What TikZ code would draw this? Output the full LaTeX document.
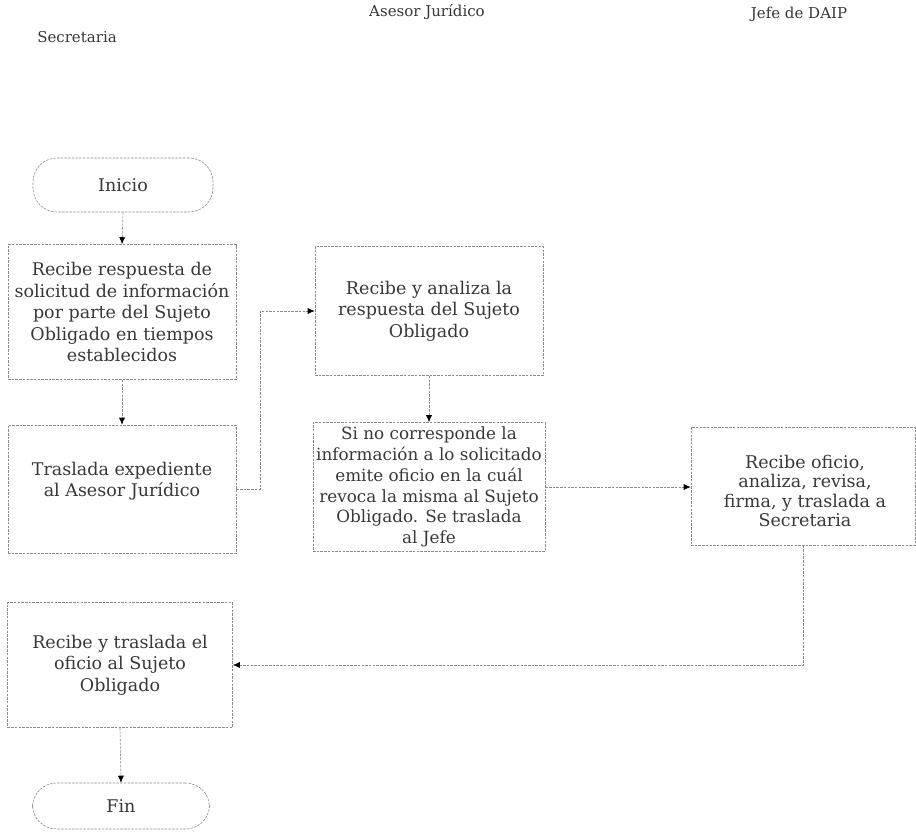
\documentclass[tikz,border=0pt]{standalone}
\usepackage{fontspec}
\setmainfont{DejaVu Serif}
\usetikzlibrary{arrows.meta}
\definecolor{inkc}{gray}{0.22}
\definecolor{edgec}{gray}{0.55}
\tikzset{
  x=1pt, y=-1pt,
  boxline/.style={draw=edgec, line width=0.6pt, dash pattern=on 2.5pt off 1.2pt},
  bodytext/.style={align=center, text=inkc, inner sep=0pt,
    font=\fontsize{17.5}{21.5}\selectfont},
  procbox/.style={boxline, rectangle, bodytext},
  termbox/.style={procbox, rounded corners=24pt},
  lane/.style={text=inkc, font=\fontsize{15}{18}\selectfont},
  conn/.style={draw=edgec, line width=0.6pt, dash pattern=on 2.5pt off 1.2pt,
    -{Latex[length=7pt,width=6pt,fill=black,color=black]}}
}
\begin{document}
\begin{tikzpicture}
\useasboundingbox (0,0) rectangle (916,839);

% swimlane headings
\node[lane] (h1) at (77,37) {Secretaria};
\node[lane] (h2) at (427,12) {Asesor Jurídico};
\node[lane] (h3) at (799,14) {Jefe de DAIP};

% Secretaria column
\node[termbox, minimum width=180, minimum height=54] (ini) at (123,185) {Inicio};
\node[procbox, minimum width=228, minimum height=135] (b1) at (122,312)
  {Recibe respuesta de\\solicitud de información\\por parte del Sujeto\\Obligado en tiempos\\establecidos};
\node[procbox, minimum width=228, minimum height=128] (b3) at (122,489) {};
\node[bodytext] (b3t) at (122,481) {Traslada expediente\\al Asesor Jurídico};
\node[procbox, minimum width=225, minimum height=125] (b6) at (120,665)
  {Recibe y traslada el\\oficio al Sujeto\\Obligado};
\node[termbox, minimum width=177, minimum height=46] (fin) at (121,806) {Fin};

% Asesor Jurídico column
\node[procbox, minimum width=228, minimum height=129] (b2) at (429,311)
  {Recibe y analiza la\\respuesta del Sujeto\\Obligado};
\node[procbox, minimum width=232, minimum height=129, font=\fontsize{16.8}{20.8}\selectfont] (b4) at (429,487)
  {Si no corresponde la\\información a lo solicitado\\emite oficio en la cuál\\revoca la misma al Sujeto\\Obligado. Se traslada\\al Jefe};

% Jefe de DAIP column
\node[procbox, minimum width=224, minimum height=118] (b5) at (803,486) {};
\node[bodytext, font=\fontsize{17.5}{19.5}\selectfont] (b5t) at (805,491)
  {Recibe oficio,\\analiza, revisa,\\firma, y traslada a\\Secretaria};

% connectors
\draw[conn] (ini.south) -- (b1.north);
\draw[conn] (b1.south) -- (b3.north);
\draw[conn] (b3.east) -- ++(24,0) |- (b2.west);
\draw[conn] (b2.south) -- (b4.north);
\draw[conn] (b4.east) -- (b4.east -| b5.west);
\draw[conn] (b5.south) |- (b6.east);
\draw[conn] (b6.south) -- (fin.north);
\end{tikzpicture}
\end{document}
